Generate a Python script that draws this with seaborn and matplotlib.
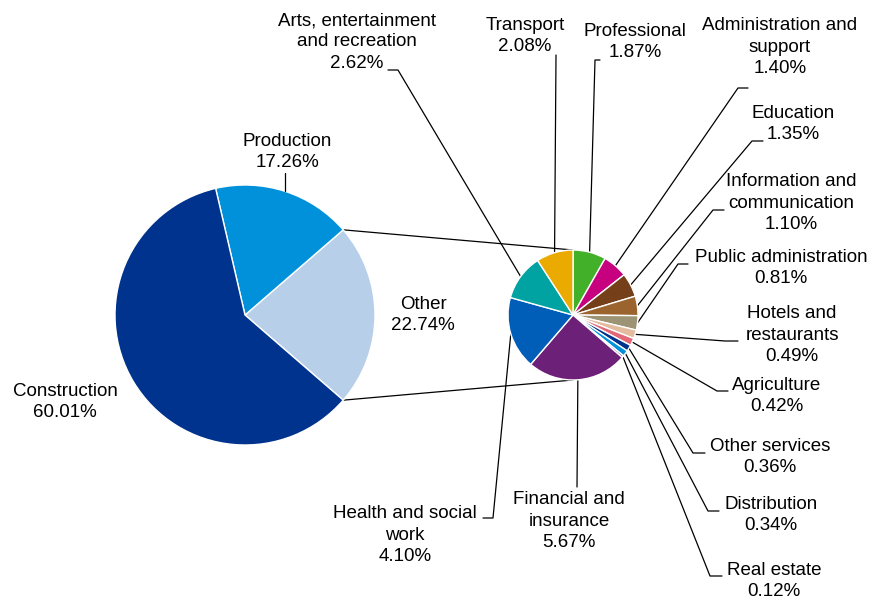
import numpy as np
import matplotlib.pyplot as plt
import seaborn as sns

W, H = 872, 603

# main pie (Other is exploded into the secondary pie)
main_labels = ["Other", "Production", "Construction"]
main_shares = [22.74, 17.26, 60.01]
main_colors = ["#B8CFEA", "#0091DA", "#00338D"]

# breakdown of "Other", clockwise from 12 o'clock
other_labels = ["Professional", "Administration and\nsupport", "Education",
                "Information and\ncommunication", "Public administration",
                "Hotels and\nrestaurants", "Agriculture", "Other services",
                "Distribution", "Real estate", "Financial and\ninsurance",
                "Health and social\nwork", "Arts, entertainment\nand recreation",
                "Transport"]
other_shares = [1.87, 1.40, 1.35, 1.10, 0.81, 0.49, 0.42, 0.36, 0.34, 0.12,
                5.67, 4.10, 2.62, 2.08]
other_colors = ["#43B02A", "#C6007E", "#753F19", "#9B642E", "#9D9375",
                "#E3BC9F", "#E36877", "#00338D", "#0091DA", "#8E5BA8",
                "#6D2077", "#005EB8", "#00A3A1", "#EAAA00"]

# layout in pixels (y from top): text centre, elbow, anchor next to the text
main_text = {"Other": (423, 315), "Production": (287, 152), "Construction": (65, 402)}
other_text = [
    ((635, 42), (595, 60), (600, 60)),
    ((780, 47), (738, 88), (748, 88)),
    ((793, 124), (752, 141), (763, 141)),
    ((791, 203), (713, 210), (724, 210)),
    ((781, 268), (678, 264), (688, 264)),
    ((792, 335), (725, 341), (738, 341)),
    ((777, 396), (717, 391), (728, 391)),
    ((770, 457), (693, 453), (705, 453)),
    ((771, 515), (708, 511), (719, 511)),
    ((774, 581), (710, 576), (722, 576)),
    ((569, 521), (577, 487), (577, 487)),
    ((405, 535), (493, 518), (483, 518)),
    ((357, 42), (398, 70), (388, 70)),
    ((525, 36), (556, 55), (556, 55)),
]

C1, R1 = (245, 315), 130
C2, R2 = (573, 315), 65
FS = 13.5
LS = 1.32


def py(y):
    return H - y


sns.set_theme(style="white")
plt.rcParams["font.family"] = ["Liberation Sans", "DejaVu Sans"]

fig = plt.figure(figsize=(W / 100, H / 100), dpi=100)
ax = fig.add_axes([0, 0, 1, 1])

half_other = main_shares[0] / sum(main_shares) * 180
ax.pie(main_shares, colors=sns.color_palette(main_colors), radius=R1,
       center=(C1[0], py(C1[1])), startangle=-half_other, counterclock=True,
       wedgeprops=dict(edgecolor="white", linewidth=1))
ax.pie(other_shares, colors=sns.color_palette(other_colors), radius=R2,
       center=(C2[0], py(C2[1])), startangle=90, counterclock=False,
       wedgeprops=dict(edgecolor="white", linewidth=1))

# connector lines between the two pies
for sgn in (1, -1):
    a = np.deg2rad(sgn * half_other)
    x0 = C1[0] + R1 * np.cos(a)
    y0 = py(C1[1]) + R1 * np.sin(a)
    ax.plot([x0, C2[0]], [y0, py(C2[1]) + sgn * R2], color="black", lw=0.9, zorder=0)

# main labels
cum = 0
for lab, v in zip(main_labels, main_shares):
    mid = -half_other + (cum + v / 2) / sum(main_shares) * 360
    cum += v
    tx, ty = main_text[lab]
    ax.text(tx, py(ty), f"{lab}\n{v:.2f}%", ha="center", va="center",
            fontsize=FS, linespacing=LS, color="black")
    if lab == "Production":
        a = np.deg2rad(mid)
        sx = C1[0] + R1 * np.cos(a)
        sy = py(C1[1]) + R1 * np.sin(a)
        ax.plot([sx, sx], [sy, py(ty + 21)], color="black", lw=0.9)

# secondary labels with leader lines
total = sum(other_shares)
cum = 0
for lab, v, (txt, elbow, anchor) in zip(other_labels, other_shares, other_text):
    mid = 90 - (cum + v / 2) / total * 360
    cum += v
    a = np.deg2rad(mid)
    sx = C2[0] + R2 * np.cos(a)
    sy = py(C2[1]) + R2 * np.sin(a)
    ax.plot([sx, elbow[0], anchor[0]], [sy, py(elbow[1]), py(anchor[1])],
            color="black", lw=0.9, zorder=0)
    ax.text(txt[0], py(txt[1]), f"{lab}\n{v:.2f}%", ha="center", va="center",
            fontsize=FS, linespacing=LS, color="black")

ax.set_xlim(0, W)
ax.set_ylim(0, H)
ax.set_aspect("equal")
ax.axis("off")

fig.savefig("out.png", dpi=100)
